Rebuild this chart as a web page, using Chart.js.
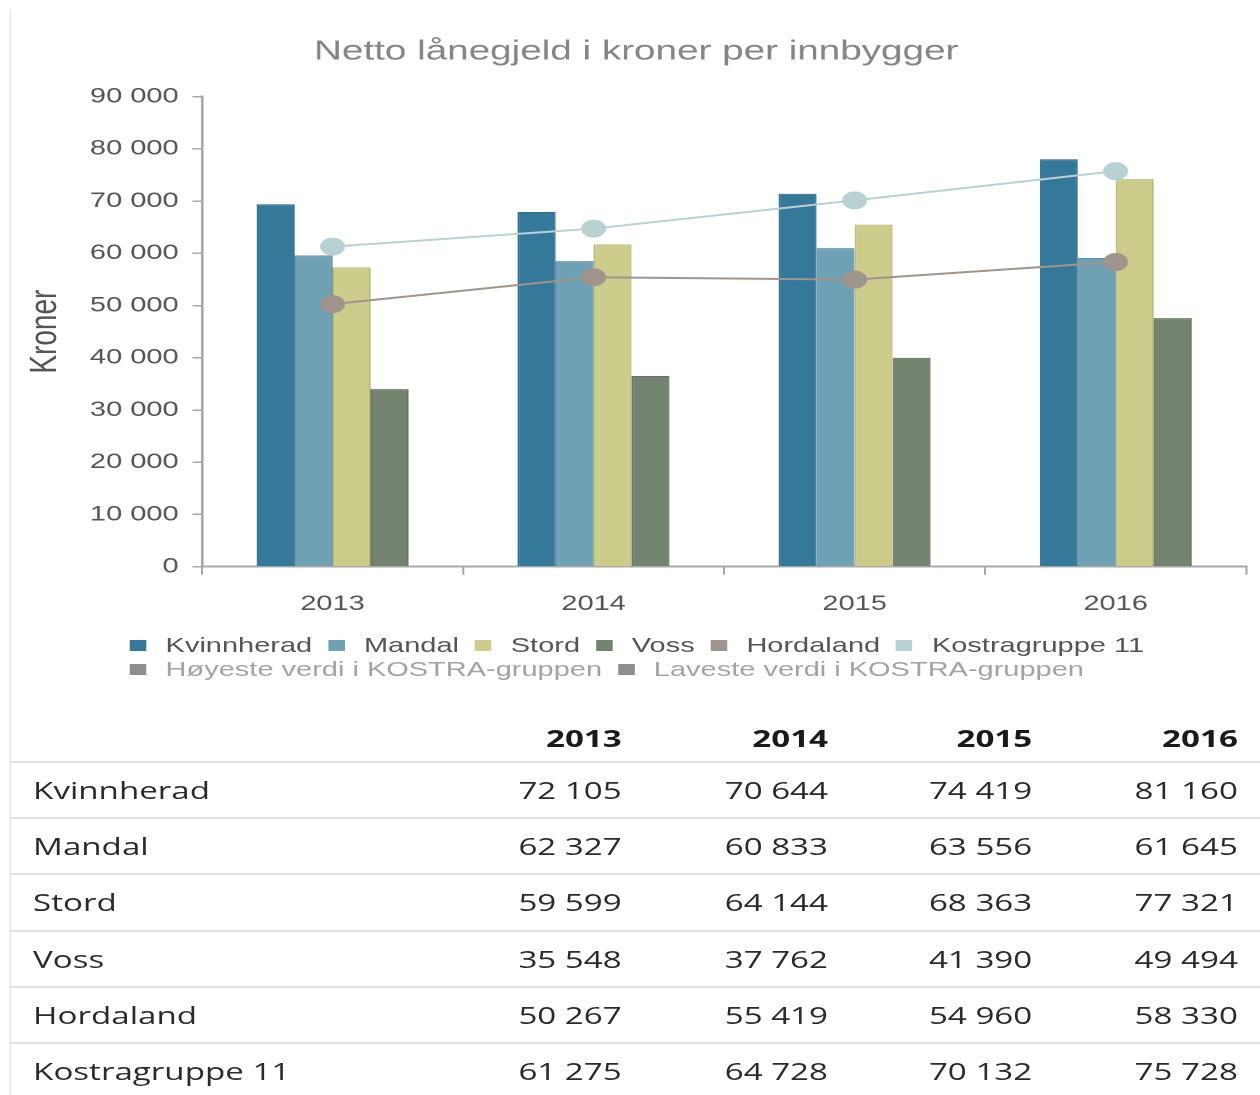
<!DOCTYPE html>
<html>
<head>
<meta charset="utf-8">
<script src="https://cdn.jsdelivr.net/npm/chart.js@4.4.1/dist/chart.umd.min.js"></script>
<style>
  html, body { margin:0; padding:0; background:#fff; overflow:hidden; width:1260px; height:1095px; }
  #stage { position:absolute; left:0; top:0; width:913px; height:1095px; transform:scale(1.38,1); transform-origin:0 0; }
  #border { position:absolute; left:6.5px; top:10px; width:1.6px; height:1085px; background:#e4e4e4; }
  #chartBox { position:absolute; left:0; top:0; width:913px; height:630px; }
  .legRow { position:absolute; left:94px; height:24px; display:flex; align-items:center; white-space:nowrap;
            font-family:"Liberation Sans", Arial, sans-serif; font-size:21px; }
  .legItem { display:flex; align-items:center; margin-right:11.5px; }
  .legBox { width:12px; height:11px; margin-right:14px; }
  #table { position:absolute; left:7px; top:705px; width:906px; font-family:"Open Sans", sans-serif; font-size:24px; color:#2b2b2b; }
  .tr { position:relative; height:54.2px; line-height:54.2px; border-bottom:2px solid #e3e3e3; }
  .tr.head { height:46px; line-height:46px; padding-top:10px; font-weight:bold; color:#1a1a1a; }
  .td { position:absolute; top:0; }
  .lab { left:17px; }
  .num { text-align:right; width:140px; }
</style>
</head>
<body>
<div id="stage">
  <div id="border"></div>
  <div id="chartBox"><canvas id="c"></canvas></div>
  <div id="legend"></div>
  <div id="table"></div>
</div>
<script>
// ---- data ----
const years = ['2013', '2014', '2015', '2016'];
const chartTitle = 'Netto lånegjeld i kroner per innbygger';
const yAxisTitle = 'Kroner';
const yTicksMax = 90000;
const yTicksStep = 10000;

const kvinnherad = [69400, 67900, 71400, 78000];
const mandal     = [59600, 58500, 61000, 59100];
const stord      = [57300, 61700, 65500, 74200];
const voss       = [34000, 36500, 40000, 47600];
const hordaland  = [50267, 55419, 54960, 58330];
const kostra11   = [61275, 64728, 70132, 75728];

const extraLegendLabels = ['Høyeste verdi i KOSTRA-gruppen', 'Laveste verdi i KOSTRA-gruppen'];

const tableRowLabels = ['Kvinnherad', 'Mandal', 'Stord', 'Voss', 'Hordaland', 'Kostragruppe 11'];
const tableKvinnherad = [72105, 70644, 74419, 81160];
const tableMandal     = [62327, 60833, 63556, 61645];
const tableStord      = [59599, 64144, 68363, 77321];
const tableVoss       = [35548, 37762, 41390, 49494];
const tableHordaland  = [50267, 55419, 54960, 58330];
const tableKostra11   = [61275, 64728, 70132, 75728];

// ---- styling ----
const fmt = v => String(v).replace(/\B(?=(\d{3})+(?!\d))/g, ' ');
const FONT = '"Liberation Sans", Arial, sans-serif';
const axisColor = '#a8a8a8';

function barDs(label, data, fill, border) {
  return { type:'bar', label, data, backgroundColor:fill, borderColor:border, borderWidth:1, order:2 };
}
function lineDs(label, data, color) {
  return { type:'line', label, data, borderColor:color, backgroundColor:color, pointBackgroundColor:color,
           pointBorderColor:color, pointRadius:8, pointHoverRadius:8, borderWidth:2, tension:0, order:1 };
}

const datasets = [
  barDs('Kvinnherad', kvinnherad, '#35799a', '#2d6b89'),
  barDs('Mandal', mandal, '#6fa1b5', '#5f90a4'),
  barDs('Stord', stord, '#cccd8b', '#b5b674'),
  barDs('Voss', voss, '#72836f', '#61725e'),
  lineDs('Hordaland', hordaland, '#a0958c'),
  lineDs('Kostragruppe 11', kostra11, '#b8d2d4'),
];

Chart.defaults.font.family = FONT;

const chart = new Chart(document.getElementById('c'), {
  data: { labels: years, datasets },
  options: {
    responsive: true,
    maintainAspectRatio: false,
    animation: false,
    devicePixelRatio: 2,
    layout: { padding: { left:19, right:10, top:0, bottom:0 } },
    datasets: { bar: { categoryPercentage: 0.582, barPercentage: 1.0 } },
    plugins: {
      legend: { display:false },
      tooltip: { enabled:false },
      title: { display:true, text: chartTitle, color:'#858585', font:{ size:28, weight:'normal' },
               padding:{ top:35, bottom:28 } }
    },
    scales: {
      x: {
        grid: { offset:true, drawOnChartArea:false, drawTicks:true, tickLength:8, color:axisColor, lineWidth:1.5 },
        border: { color:axisColor, width:2 },
        ticks: { color:'#555555', font:{ size:21 }, padding:17 },
        afterFit: s => { s.height = 630 - 566.7; }
      },
      y: {
        min:0, max:yTicksMax,
        ticks: { stepSize:yTicksStep, color:'#555555', font:{ size:21 }, padding:10, callback: v => fmt(v) },
        grid: { drawOnChartArea:false, drawTicks:true, tickLength:7, color:axisColor, lineWidth:1.5 },
        border: { color:axisColor, width:2 },
        title: { display:true, text:yAxisTitle, color:'#555555', font:{ size:28 }, padding:{ top:-3, bottom:0 } },
        afterFit: s => { s.width = 127.4; }
      }
    }
  }
});

// ---- HTML legend built from the datasets ----
const legend = document.getElementById('legend');
function addRow(items, top) {
  const row = document.createElement('div');
  row.className = 'legRow';
  row.style.top = top + 'px';
  items.forEach(it => {
    const d = document.createElement('div'); d.className = 'legItem';
    const b = document.createElement('div'); b.className = 'legBox'; b.style.background = it.box;
    const t = document.createElement('span'); t.textContent = it.text; t.style.color = it.color;
    d.appendChild(b); d.appendChild(t); row.appendChild(d);
  });
  legend.appendChild(row);
}
addRow(chart.data.datasets.map(ds => ({ text: ds.label, box: ds.backgroundColor, color:'#555555' })), 633);
addRow(extraLegendLabels.map(l => ({ text: l, box:'#8e8e8e', color:'#a3a3a3' })), 657);

// ---- table ----
const table = document.getElementById('table');
const tableValues = [tableKvinnherad, tableMandal, tableStord, tableVoss, tableHordaland, tableKostra11];
const colRight = [443.5, 593, 741, 890];
function addTr(label, cells, head) {
  const tr = document.createElement('div'); tr.className = 'tr' + (head ? ' head' : '');
  const l = document.createElement('div'); l.className = 'td lab'; l.textContent = label; tr.appendChild(l);
  cells.forEach((c, i) => {
    const d = document.createElement('div'); d.className = 'td num';
    d.style.left = (colRight[i] - 140) + 'px';
    if (head) d.style.top = '10px';
    d.textContent = c; tr.appendChild(d);
  });
  table.appendChild(tr);
}
addTr('', years, true);
tableRowLabels.forEach((lab, i) => addTr(lab, tableValues[i].map(fmt), false));
</script>
</body>
</html>
